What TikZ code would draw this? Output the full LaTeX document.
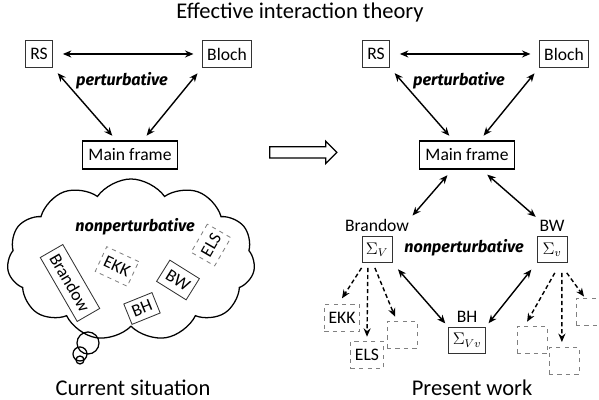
\documentclass[tikz,border=0pt]{standalone}
\usepackage{fontspec}
\setmainfont{Carlito}
\newfontfamily\handfont{Fira Sans}
\usetikzlibrary{arrows.meta,positioning,shapes.symbols,shapes.arrows}

\begin{document}
\begin{tikzpicture}[>={Stealth[length=6pt,width=5pt]},
    box/.style={draw=black!80, line width=0.6pt, font=\fontsize{12.5}{14}\selectfont, inner xsep=3.5pt, minimum height=0.675cm},
    mainbox/.style={box, draw=black, line width=1.4pt, minimum width=2.375cm, minimum height=0.7cm},
    sigbox/.style={draw=black!80, line width=0.6pt, font=\fontsize{12}{14}\selectfont, minimum width=0.75cm, minimum height=0.65cm, inner sep=1pt},
    dbox/.style={draw=gray, dashed, line width=0.6pt, font=\fontsize{12.5}{14}\selectfont, minimum width=0.75cm, minimum height=0.68cm, inner xsep=3pt},
    tag/.style={font=\fontsize{12.5}{14}\selectfont, inner sep=1pt},
    hand/.style={font=\handfont\bfseries\itshape\fontsize{11.5}{13}\selectfont},
    caption/.style={font=\fontsize{16}{18}\selectfont},
    biarrow/.style={<->, line width=1pt},
    darrow/.style={->, line width=1pt, dash pattern=on 3pt off 2pt}]
    \useasboundingbox (0,0) rectangle (14.975,10);

    \node[caption] (title) at (7.5,9.675) {Effective interaction theory};

    \begin{scope}
        \node[box] (rsL) at (0.975,8.65) {RS};
        \node[box] (blochL) at (5.675,8.65) {Bloch};
        \node[mainbox] (mainL) at (3.25,6.125) {Main frame};
        \node[hand] (pertL) at (3.05,7.975) {perturbative};
        \draw[biarrow, shorten <=7pt, shorten >=6pt] (rsL) -- (blochL);
        \draw[biarrow, shorten <=5pt, shorten >=4pt] (rsL.south east) -- (mainL.133);
        \draw[biarrow, shorten <=5pt, shorten >=4pt] (blochL.south west) -- (mainL.49);

        \node[cloud, draw, line width=0.9pt, cloud puffs=11, cloud puff arc=110, minimum width=6.2cm, minimum height=4.05cm] (cloud) at (3.275,3.5) {};
        \draw[line width=0.9pt] (2.2,1.425) circle (0.275);
        \draw[line width=0.9pt] (2.0,1.15) circle (0.175);
        \draw[line width=0.9pt] (2.0,1.0) circle (0.1);

        \node[hand] (npL) at (3.375,4.325) {nonperturbative};
        \node[box, rotate=-60, minimum height=0.65cm] (brandowL) at (1.75,2.925) {Brandow};
        \node[dbox, rotate=-25] (ekkL) at (2.925,3.3375) {EKK};
        \node[dbox, rotate=60] (elsL) at (5.275,3.875) {ELS};
        \node[box, rotate=-32, minimum height=0.625cm] (bwL) at (4.45,3.0) {BW};
        \node[box, rotate=22, minimum height=0.55cm] (bhL) at (3.55,2.2875) {BH};

        \node[caption] (curL) at (3.325,0.3) {Current situation};
    \end{scope}

    \node[single arrow, draw, line width=0.9pt, inner sep=0.125cm, single arrow head extend=0.1375cm,
          single arrow tip angle=90, minimum height=1.675cm] (imply) at (7.5125,6.19) {};

    \begin{scope}[shift={(8.425,0)}]
        \node[box] (rsR) at (0.975,8.65) {RS};
        \node[box] (blochR) at (5.675,8.65) {Bloch};
        \node[mainbox] (mainR) at (3.25,6.125) {Main frame};
        \node[hand] (pertR) at (3.05,7.975) {perturbative};
        \draw[biarrow, shorten <=7pt, shorten >=6pt] (rsR) -- (blochR);
        \draw[biarrow, shorten <=5pt, shorten >=4pt] (rsR.south east) -- (mainR.133);
        \draw[biarrow, shorten <=5pt, shorten >=4pt] (blochR.south west) -- (mainR.49);

        \node[sigbox] (sigV) at (1.0,3.76) {$\Sigma_V$};
        \node[tag, above=2pt of sigV] (brandowR) {Brandow};
        \node[sigbox] (sigv) at (5.375,3.76) {$\Sigma_v$};
        \node[tag, above=2pt of sigv] (bwR) {BW};
        \node[hand] (npR) at (3.175,3.8) {nonperturbative};
        \node[sigbox, minimum width=0.925cm] (sigVv) at (3.25,1.5) {$\Sigma_{Vv}$};
        \node[tag, above=2pt of sigVv] (bhR) {BH};

        \node[dbox] (ekkR) at (0.125,2.05) {EKK};
        \node[dbox] (elsR) at (0.75,1.125) {ELS};
        \node[dbox] (emptyA) at (1.625,1.625) {};
        \node[dbox] (emptyB) at (4.875,1.5) {};
        \node[dbox] (emptyC) at (5.675,0.975) {};
        \node[dbox] (emptyD) at (6.35,2.2) {};

        \draw[biarrow, shorten <=5pt, shorten >=2pt] (mainR.-135) -- (brandowR.north east);
        \draw[biarrow, shorten <=5pt, shorten >=2pt] (mainR.-45) -- (bwR.north west);
        \draw[biarrow, shorten <=6pt, shorten >=3pt] (sigV.south east) -- (sigVv.north west);
        \draw[biarrow, shorten <=6pt, shorten >=3pt] (sigv.south west) -- (sigVv.north east);

        \draw[darrow] ([shift={(-11pt,-3.5pt)}]sigV.south) -- ([yshift=4pt]ekkR.north);
        \draw[darrow] ([shift={(-6.5pt,-3.5pt)}]sigV.south) -- ([yshift=3pt]elsR.north);
        \draw[darrow] ([shift={(-1.5pt,-3.5pt)}]sigV.south) -- ([shift={(6pt,3pt)}]emptyA.north west);
        \draw[darrow] ([shift={(2pt,-7pt)}]sigv.south) -- ([shift={(-3.5pt,3pt)}]emptyB.north);
        \draw[darrow] ([shift={(7pt,-7pt)}]sigv.south) -- ([shift={(-1.5pt,3.5pt)}]emptyC.north);
        \draw[darrow] ([shift={(10.5pt,-7pt)}]sigv.south) -- ([shift={(6pt,1pt)}]emptyD.north west);

        \node[caption] (curR) at (3.375,0.3) {Present work};
    \end{scope}
\end{tikzpicture}
\end{document}
